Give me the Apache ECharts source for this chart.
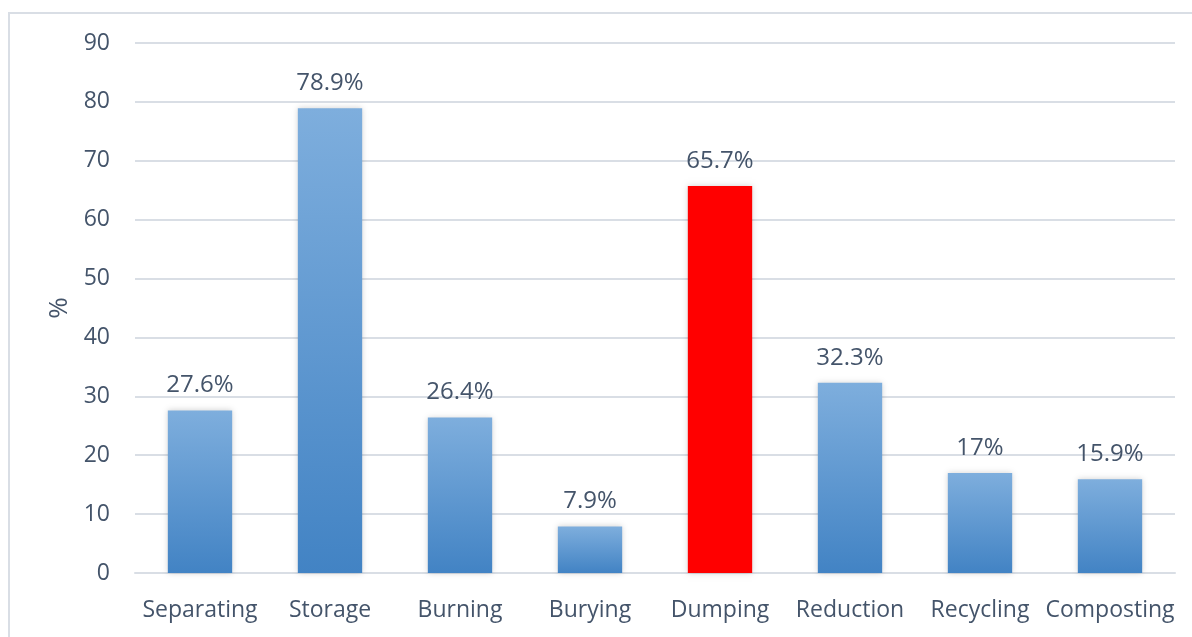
<!DOCTYPE html>
<html><head><meta charset="utf-8">
<script src="https://cdn.jsdelivr.net/npm/echarts@6/dist/echarts.min.js"></script>
<style>html,body{margin:0;padding:0;background:#fff}#c{width:1192px;height:637px}</style>
</head><body><div id="c"></div>
<script>
const categories = ['Separating','Storage','Burning','Burying','Dumping','Reduction','Recycling','Composting'];
const values = [27.6, 78.9, 26.4, 7.9, 65.7, 32.3, 17, 15.9];
const highlightCategory = 'Dumping';
const yTicks = {min: 0, max: 90, interval: 10};

const blueGrad = new echarts.graphic.LinearGradient(0,0,0,1,[{offset:0,color:'#7EAEDD'},{offset:1,color:'#4283C4'}]);
const txt = '#44546A';
const font = "'Open Sans', 'Liberation Sans', sans-serif";
const chart = echarts.init(document.getElementById('c'));
chart.setOption({
  animation:false,
  graphic:[{type:'rect',shape:{x:9,y:13,width:1300,height:800},style:{fill:'none',stroke:'#D9DEE5',lineWidth:2},silent:true}],
  grid:{left:135,right:17,top:43,bottom:64},
  xAxis:{type:'category',data:categories,
    axisLine:{lineStyle:{color:'#D9DEE5',width:2}},axisTick:{show:false},
    axisLabel:{color:txt,fontSize:23,fontFamily:font,margin:26,interval:0}},
  yAxis:{type:'value',min:yTicks.min,max:yTicks.max,interval:yTicks.interval,
    name:'%',nameLocation:'middle',nameGap:62,nameRotate:90,
    nameTextStyle:{color:txt,fontSize:26,fontFamily:font},
    axisLine:{show:false},axisTick:{show:false},
    axisLabel:{color:txt,fontSize:23,fontFamily:font,margin:25},
    splitLine:{lineStyle:{color:'#D9DEE5',width:2}}},
  series:[{type:'bar',barWidth:'49.5%',
    data:values.map((v,i)=>({value:v,itemStyle:{color:categories[i]===highlightCategory?'#FF0000':blueGrad}})),
    itemStyle:{shadowColor:'rgba(0,0,0,0.18)',shadowBlur:6},
    label:{show:true,position:'top',distance:13,color:txt,fontSize:24,fontFamily:font,formatter:'{c}%'}}]
});
</script></body></html>
